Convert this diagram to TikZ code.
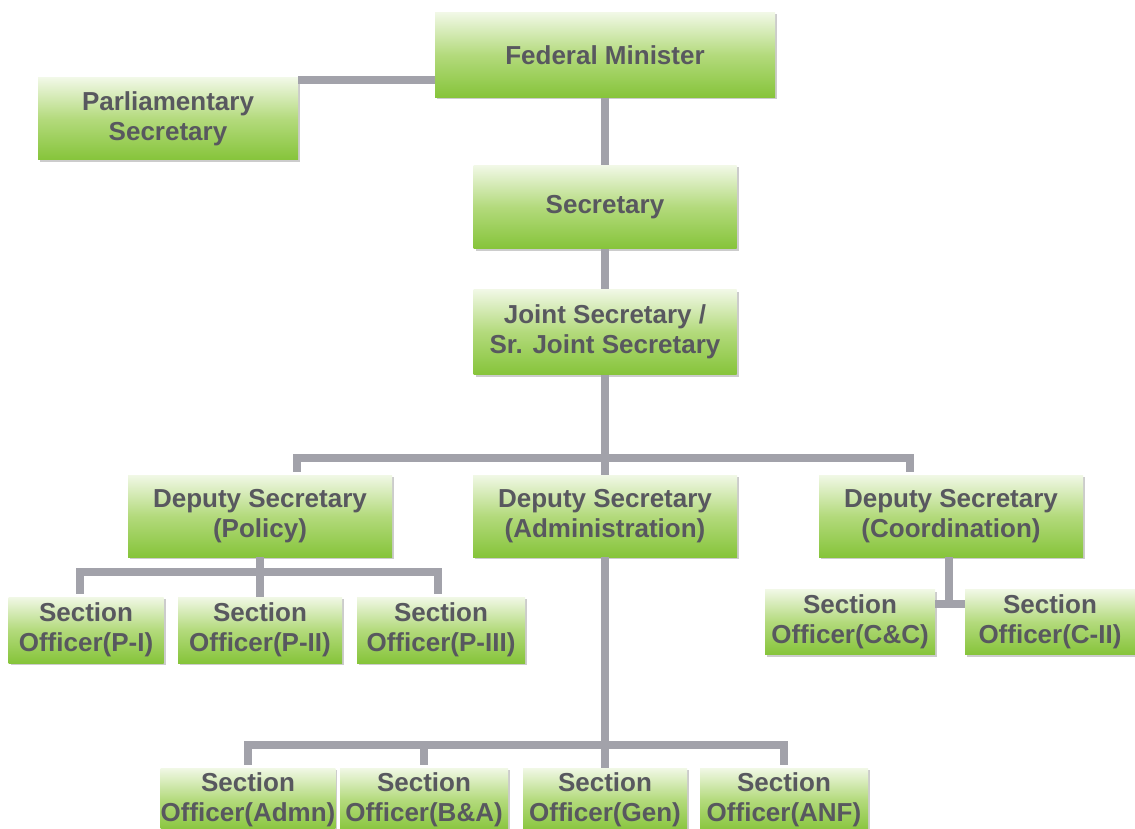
\documentclass[tikz,border=0pt]{standalone}
\usepackage{fontspec}
\setmainfont{Liberation Sans}
\usetikzlibrary{shadows}

\definecolor{boxtop}{HTML}{F1F8E6}
\definecolor{boxmid}{HTML}{B3DA7C}
\definecolor{boxbot}{HTML}{86C43A}
\definecolor{boxtext}{HTML}{58585F}
\definecolor{linkgray}{HTML}{A2A2AA}

\begin{document}
\begin{tikzpicture}[x=1pt, y=-1pt, every text node part/.style={align=center},
    post/.style={rectangle, inner sep=0pt, top color=boxtop, bottom color=boxbot, middle color=boxmid,
        text=boxtext, font=\fontsize{26}{30}\selectfont\bfseries,
        drop shadow={shadow xshift=2pt, shadow yshift=-2pt, fill=black!40, opacity=0.5}},
    link/.style={draw=linkgray, line width=8pt}]
        \useasboundingbox (0,0) rectangle (1135,829);
        \clip (0,0) rectangle (1135,829);

        \node[post, minimum width=340, minimum height=85](FederalMinister) at (605, 55){Federal Minister};
        \node[post, minimum width=260, minimum height=82](ParliamentarySecretary) at (168, 119){Parliamentary\\Secretary};
        \node[post, minimum width=263, minimum height=83](Secretary) at (605, 207){Secretary};
        \node[post, minimum width=263, minimum height=85](JointSecretary) at (605, 332){Joint Secretary /\\Sr. Joint Secretary};

        \node[post, minimum width=264, minimum height=82](DSPolicy) at (260, 516){Deputy Secretary\\(Policy)};
        \node[post, minimum width=264, minimum height=82](DSAdmin) at (605, 516){Deputy Secretary\\(Administration)};
        \node[post, minimum width=264, minimum height=82](DSCoord) at (951, 516){Deputy Secretary\\(Coordination)};

        \node[post, minimum width=155, minimum height=66](SOP1) at (86, 630){Section\\Officer(P-I)};
        \node[post, minimum width=164, minimum height=66](SOP2) at (260, 630){Section\\Officer(P-II)};
        \node[post, minimum width=168, minimum height=66](SOP3) at (441, 630){Section\\Officer(P-III)};

        \node[post, minimum width=170, minimum height=65](SOC1) at (850, 622){Section\\Officer(C\&C)};
        \node[post, minimum width=170, minimum height=65](SOC2) at (1050, 622){Section\\Officer(C-II)};

        \node[post, minimum width=170, minimum height=64](SOAdmn) at (248, 800){Section\\Officer(Admn)};
        \node[post, minimum width=168, minimum height=64](SOBA) at (424, 800){Section\\Officer(B\&A)};
        \node[post, minimum width=164, minimum height=64](SOGen) at (605, 800){Section\\Officer(Gen)};
        \node[post, minimum width=168, minimum height=64](SOANF) at (784, 800){Section\\Officer(ANF)};

        \coordinate(dsbus) at (605, 458);
        \coordinate(pbus) at (260, 572);
        \coordinate(cbar) at (949, 604);
        \coordinate(abus) at (605, 745);

        \draw[link]([yshift=-2pt]ParliamentarySecretary.north east) -- ([yshift=-2pt]ParliamentarySecretary.north east -| FederalMinister.west);
        \draw[link](FederalMinister.south) -- (Secretary.north);
        \draw[link](Secretary.south) -- (JointSecretary.north);
        \draw[link](JointSecretary.south) -- (DSAdmin.north);
        \draw[link]([xshift=37pt, yshift=3pt]DSPolicy.north) -- ([xshift=37pt]DSPolicy.north |- dsbus) -- ([xshift=-41pt]DSCoord.north |- dsbus) -- ([xshift=-41pt, yshift=3pt]DSCoord.north);

        \draw[link](DSPolicy.south) -- (SOP2.north);
        \draw[link]([xshift=-6pt, yshift=3pt]SOP1.north) -- ([xshift=-6pt]SOP1.north |- pbus) -- ([xshift=-3pt]SOP3.north |- pbus) -- ([xshift=-3pt, yshift=3pt]SOP3.north);

        \draw[link]([xshift=-2pt]DSCoord.south) -- ([yshift=-4pt]cbar);
        \draw[link](SOC1.east |- cbar) -- (SOC2.west |- cbar);

        \draw[link](DSAdmin.south) -- (SOGen.north);
        \draw[link]([yshift=3pt]SOAdmn.north) -- (SOAdmn.north |- abus) -- (SOANF.north |- abus) -- ([yshift=3pt]SOANF.north);
        \draw[link]([yshift=3pt]SOBA.north) -- (SOBA.north |- abus);

    \end{tikzpicture}
\end{document}
